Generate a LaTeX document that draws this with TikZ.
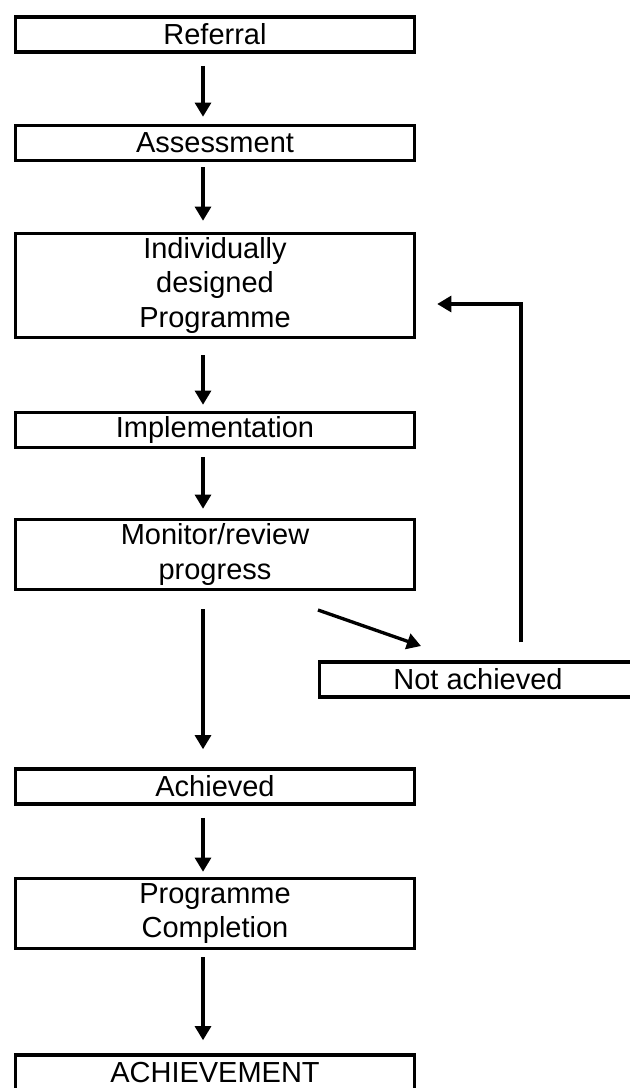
\documentclass[tikz,border=0pt]{standalone}
\usepackage{fontspec}
\setmainfont{Liberation Sans}
\usepackage{tikz}
\usetikzlibrary{arrows.meta}
\usetikzlibrary{calc}
\tikzset{
  stage/.style={draw,line width=2pt,minimum width=7.98cm,minimum height=0.70cm,
    inner sep=0pt,align=center,font=\fontsize{16.5}{19.8}\selectfont},
  flow/.style={line width=1.9pt,-{Triangle[width=9pt,length=8pt]}}
}

\begin{document}
\begin{tikzpicture}[x=0.02cm,y=-0.02cm]
\useasboundingbox (0,0) rectangle (629,1088);

\node[stage] (referral)   at (215,34.5)  {Referral};
\node[stage] (assess)     at (215,143)   {Assessment};
\node[stage,minimum height=2.08cm] (prog) at (215,285.5) {Individually\\designed\\Programme};
\node[stage] (impl)       at (215,430)   {Implementation};
\node[stage,minimum height=1.40cm] (monitor) at (215,554.5) {Monitor/review\\progress};
\node[stage,minimum width=6.34cm] (notach) at (478,679.5) {Not achieved};
\node[stage] (achieved)   at (215,786.5) {Achieved};
\node[stage,minimum height=1.40cm] (completion) at (215,913.5) {Programme\\Completion};
\node[stage] (final)      at (215,1072.5) {ACHIEVEMENT};

\foreach \from/\to/\s/\e in {referral/assess/12/7, assess/prog/5/11, prog/impl/16/6,
    impl/monitor/8/9, monitor/achieved/18/18, achieved/completion/12/5, completion/final/7/13}
    \draw[flow,shorten <=\s*0.2mm,shorten >=\e*0.2mm]
      ([xshift=-2.4mm]\from.south) -- ([xshift=-2.4mm]\to.north);

\coordinate (split) at (318,610);
\coordinate (tip)   at (421,646);
\draw[flow] (split) -- (tip);

\draw[flow] ($(notach.north)+(43,-18)$) |- ($(prog.east)+(21,18.5)$);
\end{tikzpicture}
\end{document}
